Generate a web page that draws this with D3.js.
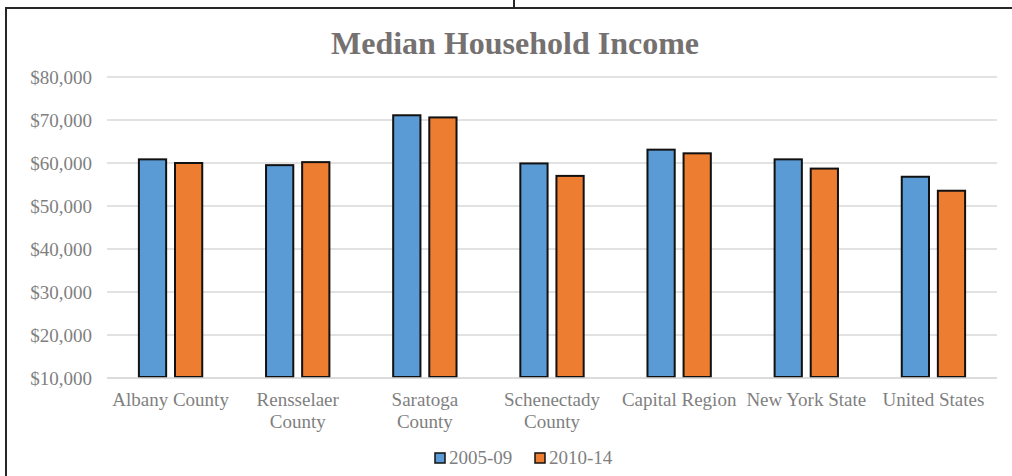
<!DOCTYPE html>
<html>
<head>
<meta charset="utf-8">
<script src="https://cdn.jsdelivr.net/npm/d3@7"></script>
<style>
  html, body { margin: 0; padding: 0; background: #fff; }
  svg { display: block; font-family: "Liberation Serif", "Times New Roman", serif; }
</style>
</head>
<body>
<svg id="chart" width="1012" height="476"></svg>
<script>
// Median household income by area, two ACS five-year periods
const categories = ["Albany County", "Rensselaer County", "Saratoga County", "Schenectady County",
                    "Capital Region", "New York State", "United States"];
const seriesNames = ["2005-09", "2010-14"];
const income2005_09 = [60850, 59500, 71100, 59900, 63100, 60850, 56800];
const income2010_14 = [60000, 60200, 70600, 57000, 62250, 58700, 53550];
const yTicks = [10000, 20000, 30000, 40000, 50000, 60000, 70000, 80000];
const seriesColors = ["#5B9BD5", "#ED7D31"];

const rows = categories.map((c, i) => ({
  category: c,
  values: [income2005_09[i], income2010_14[i]]
}));

const svg = d3.select("#chart");
const plot = { left: 107, right: 997, top: 77, bottom: 378 };

// Frame lines
svg.append("line").attr("x1", 6).attr("x2", 6).attr("y1", 7).attr("y2", 476)
  .attr("stroke", "#262626").attr("stroke-width", 2);
svg.append("line").attr("x1", 5).attr("x2", 1012).attr("y1", 8).attr("y2", 8)
  .attr("stroke", "#262626").attr("stroke-width", 2);
svg.append("line").attr("x1", 514).attr("x2", 514).attr("y1", 0).attr("y2", 8)
  .attr("stroke", "#262626").attr("stroke-width", 2);

// Title
svg.append("text")
  .attr("x", 515).attr("y", 54)
  .attr("text-anchor", "middle")
  .attr("font-size", 32).attr("font-weight", "bold")
  .attr("fill", "#767171")
  .text("Median Household Income");

const y = d3.scaleLinear().domain([10000, 80000]).range([plot.bottom, plot.top]);
const x0 = d3.scaleBand().domain(categories).range([plot.left, plot.right])
  .paddingInner(0.486).paddingOuter(0.243);
const x1 = d3.scaleBand().domain(seriesNames).range([0, x0.bandwidth()]).paddingInner(0.19);

// Gridlines
svg.append("g")
  .selectAll("line")
  .data(yTicks)
  .join("line")
  .attr("x1", plot.left).attr("x2", plot.right)
  .attr("y1", d => y(d)).attr("y2", d => y(d))
  .attr("stroke", "#D9D9D9").attr("stroke-width", 1.5);

// Y axis labels
const yAxis = d3.axisLeft(y).tickValues(yTicks).tickSize(0).tickPadding(0)
  .tickFormat(d => "$" + d3.format(",")(d));
const gy = svg.append("g").attr("transform", `translate(${plot.left - 15},0)`).call(yAxis);
gy.select(".domain").remove();
gy.selectAll("text").attr("font-size", 19).attr("fill", "#7F7F7F")
  .attr("font-family", "Liberation Serif, serif");

// Bars
const groups = svg.append("g").selectAll("g")
  .data(rows)
  .join("g")
  .attr("transform", d => `translate(${x0(d.category)},0)`);

groups.selectAll("rect")
  .data(d => d.values.map((v, i) => ({ key: seriesNames[i], value: v, i })))
  .join("rect")
  .attr("x", d => x1(d.key) + 1)
  .attr("width", x1.bandwidth() - 2)
  .attr("y", d => y(d.value))
  .attr("height", d => y(10000) - y(d.value) - 1)
  .attr("fill", d => seriesColors[d.i])
  .attr("stroke", "#111")
  .attr("stroke-width", 2);

// Bottom axis line
svg.append("line")
  .attr("x1", plot.left).attr("x2", plot.right)
  .attr("y1", y(10000)).attr("y2", y(10000))
  .attr("stroke", "#D9D9D9").attr("stroke-width", 1.5);

// Category labels, wrapped to the band width
const xAxis = d3.axisBottom(x0).tickSize(0).tickPadding(0);
const gx = svg.append("g").attr("transform", `translate(0,${plot.bottom})`).call(xAxis);
gx.select(".domain").remove();
gx.selectAll("text")
  .attr("font-size", 19).attr("fill", "#7F7F7F")
  .attr("font-family", "Liberation Serif, serif")
  .attr("dy", null).attr("y", 0)
  .each(function() { wrap(d3.select(this), x0.step() - 4); });

function wrap(text, width) {
  const words = text.text().split(/\s+/);
  text.text(null);
  let line = [];
  let lineNo = 0;
  let tspan = text.append("tspan").attr("x", 0).attr("y", 28);
  words.forEach(w => {
    line.push(w);
    tspan.text(line.join(" "));
    if (tspan.node().getComputedTextLength() > width && line.length > 1) {
      line.pop();
      tspan.text(line.join(" "));
      line = [w];
      lineNo += 1;
      tspan = text.append("tspan").attr("x", 0).attr("y", 28 + lineNo * 22).text(w);
    }
  });
}

// Legend
const legend = svg.append("g").attr("transform", "translate(435,453)");
const items = legend.selectAll("g").data(seriesNames).join("g")
  .attr("transform", (d, i) => `translate(${i * 100},0)`);
items.append("rect").attr("width", 10).attr("height", 10)
  .attr("fill", (d, i) => seriesColors[i]).attr("stroke", "#111").attr("stroke-width", 1.5);
items.append("text").attr("x", 14).attr("y", 11)
  .attr("font-size", 19).attr("fill", "#7F7F7F")
  .text(d => d);
</script>
</body>
</html>
